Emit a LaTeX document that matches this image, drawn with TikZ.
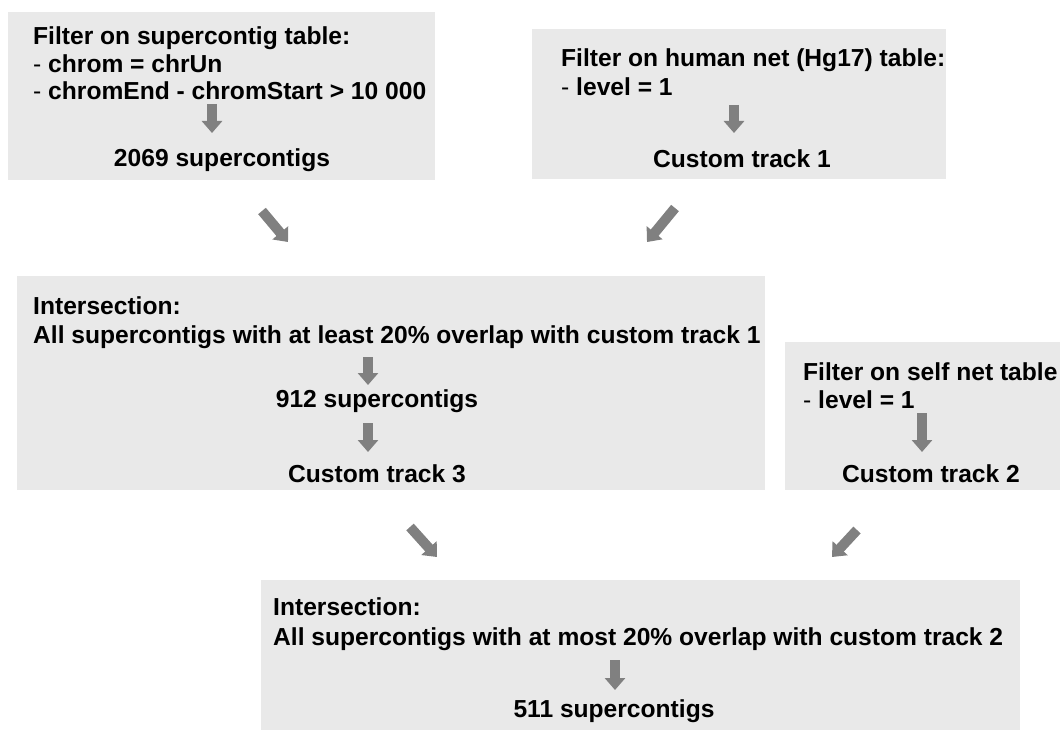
\documentclass[tikz,border=0pt]{standalone}
\usepackage{fontspec}
\setmainfont{Liberation Sans}
\usetikzlibrary{arrows.meta}
\definecolor{panelgray}{RGB}{233,233,233}
\definecolor{arrowgray}{RGB}{128,128,128}

\begin{document}
\begin{tikzpicture}[x=1pt,y=-1pt,
	panel/.style={fill=panelgray,draw=none,anchor=north west,inner sep=0pt},
	txt/.style={font=\bfseries\fontsize{24.6}{28}\selectfont,inner sep=0pt,anchor=base west},
	result/.style={txt,anchor=base},
	blockarrow/.style={draw=arrowgray,line width=10pt,-{Triangle[length=12pt,width=20pt]}}]
	\useasboundingbox (0,0) rectangle (1060,730);
	% grey panels
	\node[panel,minimum width=427pt,minimum height=168pt] (box1) at (8,12) {};
	\node[panel,minimum width=414pt,minimum height=150pt] (box2) at (532,29) {};
	\node[panel,minimum width=748pt,minimum height=214pt] (box3) at (17,276) {};
	\node[panel,minimum width=275pt,minimum height=148pt] (box4) at (785,342) {};
	\node[panel,minimum width=759pt,minimum height=150pt] (box5) at (261,580) {};
	
	% supercontig filter
	\node[txt] (f1a) at (33,45) {Filter on supercontig table:};
	\node[txt] (f1b) at (33,73) {{\mdseries -} chrom = chrUn};
	\node[txt] (f1c) at (33,100) {{\mdseries -} chromEnd - chromStart > 10 000};
	\node[result] (r1) at (222,167) {2069 supercontigs};
	
	% human net filter
	\node[txt] (f2a) at (561,67) {Filter on human net (Hg17) table:};
	\node[txt] (f2b) at (561,96) {{\mdseries -} level = 1};
	\node[result] (r2) at (742,168) {Custom track 1};
	
	% first intersection
	\node[txt] (i1a) at (33,314) {Intersection:};
	\node[txt] (i1b) at (33,343) {All supercontigs with at least 20\% overlap with custom track 1};
	\node[result] (r3) at (377,407) {912 supercontigs};
	\node[result] (r4) at (377,482) {Custom track 3};
	
	% self net filter
	\node[txt] (f3a) at (803,380) {Filter on self net table};
	\node[txt] (f3b) at (803,408) {{\mdseries -} level = 1};
	\node[result] (r5) at (931,482) {Custom track 2};
	
	% second intersection
	\node[txt] (i2a) at (273,615) {Intersection:};
	\node[txt] (i2b) at (273,645) {All supercontigs with at most 20\% overlap with custom track 2};
	\node[result] (r6) at (614,717) {511 supercontigs};
	
	% block arrows
	\foreach \n/\xa/\ya/\xb/\yb in {1/212/104/212/133, 2/734/105/734/133,
		3/368/357/368/385, 4/368/423/368/452, 5/922/413/922/452, 6/615/660/615/690,
		7/262/211/288/242, 8/675/208/647/242, 9/410/527/437/557, 10/857/530/832/557}{
		\coordinate (s\n) at (\xa,\ya);
		\coordinate (e\n) at (\xb,\yb);
		\draw[blockarrow] (s\n) -- (e\n);
	}
\end{tikzpicture}
\end{document}
